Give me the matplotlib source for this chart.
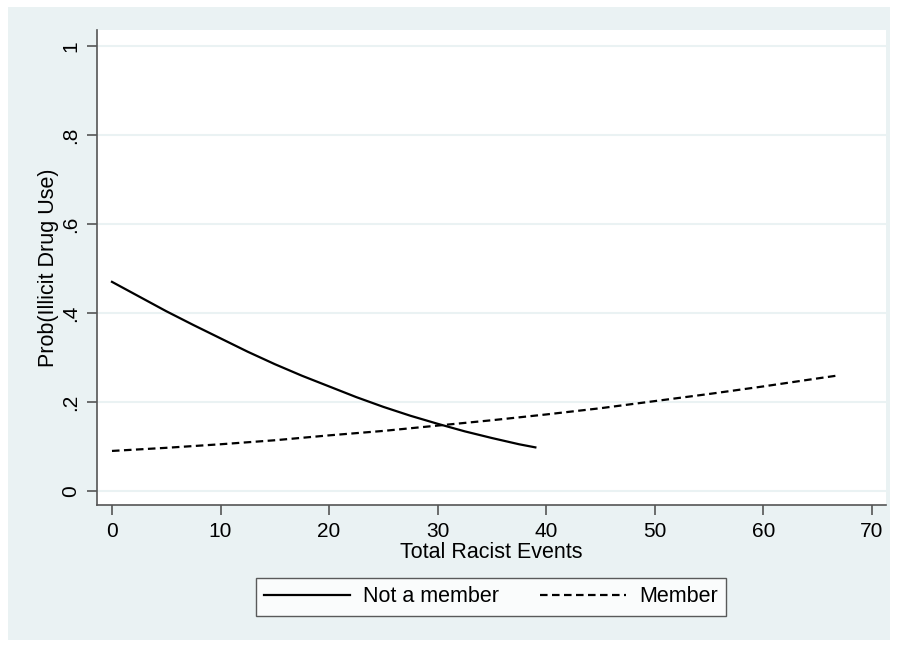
import matplotlib
matplotlib.use("Agg")
import matplotlib.pyplot as plt
from matplotlib.patches import Rectangle

plt.rcParams["font.family"] = ["Liberation Sans", "DejaVu Sans"]

# Predicted probabilities
x_non = [0, 2.5, 5, 7.5, 10, 12.5, 15, 17.5, 20, 22.5, 25, 27.5, 30, 32.5, 35, 37.5, 39]
y_non = [0.470, 0.437, 0.404, 0.373, 0.343, 0.313, 0.285, 0.259, 0.235,
         0.211, 0.189, 0.169, 0.151, 0.134, 0.119, 0.105, 0.098]

x_mem = [0, 5, 10, 15, 20, 25, 30, 35, 40, 45, 50, 55, 60, 65, 67]
y_mem = [0.090, 0.097, 0.105, 0.114, 0.125, 0.135, 0.147, 0.159, 0.172,
         0.186, 0.202, 0.218, 0.235, 0.253, 0.260]

yticks = [0, 0.2, 0.4, 0.6, 0.8, 1]
ytick_labels = ["0", ".2", ".4", ".6", ".8", "1"]
xticks = [0, 10, 20, 30, 40, 50, 60, 70]

bg = "#EAF2F3"
W, H = 898, 646

fig = plt.figure(figsize=(W / 100, H / 100), dpi=100, facecolor="white")
fig.patches.append(Rectangle((8 / W, 6 / H), 882 / W, 633 / H,
                             transform=fig.transFigure, facecolor=bg,
                             edgecolor="none", zorder=-10))

ax = fig.add_axes([97 / W, 1 - 505 / H, 789 / W, 475 / H])
ax.set_facecolor("white")

ax.plot(x_non, y_non, color="black", lw=1.6, label="Not a member")
ax.plot(x_mem, y_mem, color="black", lw=1.6, ls=(0, (3.4, 2.0)), label="Member")

ax.set_xlim(-1.38, 71.3)
ax.set_ylim(-0.0315, 1.036)
ax.set_yticks(yticks)
ax.set_yticklabels(ytick_labels, rotation=90, va="center")
ax.set_xticks(xticks)
ax.yaxis.grid(True, color=bg, lw=1.5)
ax.set_axisbelow(True)

for side in ["top", "right"]:
    ax.spines[side].set_visible(False)
for side in ["left", "bottom"]:
    ax.spines[side].set_color("#555555")
    ax.spines[side].set_linewidth(1.2)
ax.tick_params(axis="both", direction="out", length=7, width=1.2,
               color="#555555", labelsize=15, pad=5)

ax.set_xlabel("Total Racist Events", fontsize=15.5, labelpad=1)
ax.set_ylabel("Prob(Illicit Drug Use)", fontsize=15.5, labelpad=2)

handles, labels = ax.get_legend_handles_labels()
leg = fig.legend(handles, labels, loc="center",
                 bbox_to_anchor=(491 / W, 1 - 597 / H), ncol=2,
                 fontsize=15.5, frameon=True, fancybox=False,
                 edgecolor="#333333", handlelength=4.0, columnspacing=1.9,
                 handletextpad=0.6, borderpad=0.4)
leg.get_frame().set_linewidth(1.0)

fig.savefig("out.png", dpi=100, facecolor="white")
